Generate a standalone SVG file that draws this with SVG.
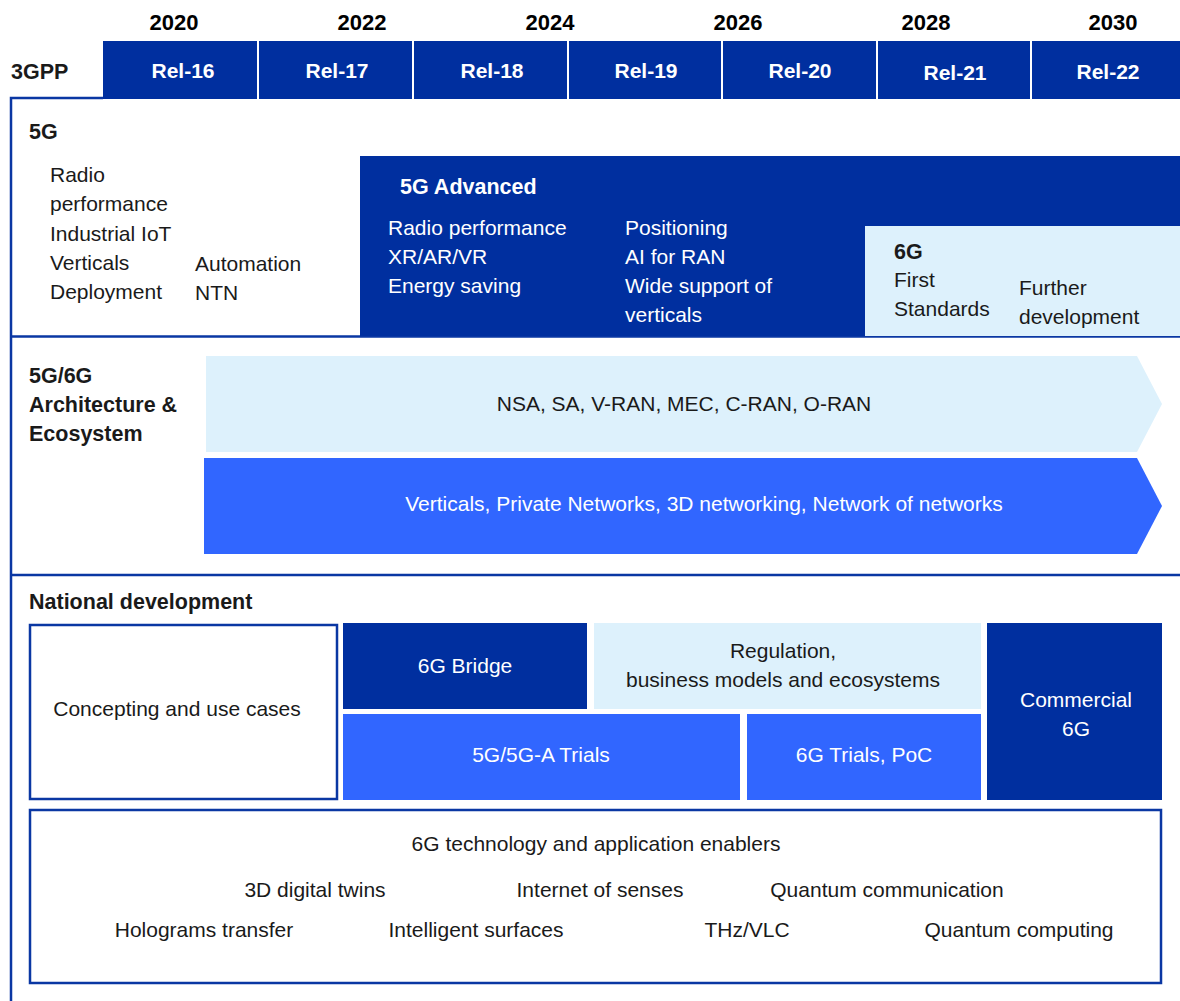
<svg xmlns="http://www.w3.org/2000/svg" width="1180" height="1001" viewBox="0 0 1180 1001">
<style>
text{font-family:"Liberation Sans",Arial,sans-serif;font-size:21px;fill:#1a1a1a}
.b{font-weight:bold;font-size:21.5px}
.yr{font-weight:bold;font-size:22px;fill:#000;text-anchor:middle}
.rel{font-weight:bold;font-size:21px;fill:#fff;text-anchor:middle}
.w{fill:#fff}
.c{text-anchor:middle}
.navy{fill:#002f9f}
.bright{fill:#3166ff}
.light{fill:#ddf1fc}
.line{stroke:#0a37a3;stroke-width:2.5;fill:none}
</style>
<rect width="1180" height="1001" fill="#fff"/>
<g id="years">
<text class="yr" x="174" y="30">2020</text>
<text class="yr" x="362" y="30">2022</text>
<text class="yr" x="550" y="30">2024</text>
<text class="yr" x="738" y="30">2026</text>
<text class="yr" x="926" y="30">2028</text>
<text class="yr" x="1113" y="30">2030</text>
</g>
<g id="gpp">
<text class="b" x="11" y="79">3GPP</text>
<rect class="navy" x="103" y="41" width="154" height="58"/>
<rect class="navy" x="259" y="41" width="153" height="58"/>
<rect class="navy" x="414" y="41" width="153" height="58"/>
<rect class="navy" x="569" y="41" width="152" height="58"/>
<rect class="navy" x="723" y="41" width="153" height="58"/>
<rect class="navy" x="878" y="41" width="152" height="58"/>
<rect class="navy" x="1032" y="41" width="148" height="58"/>
<text class="rel" x="183" y="78">Rel-16</text>
<text class="rel" x="337" y="78">Rel-17</text>
<text class="rel" x="492" y="78">Rel-18</text>
<text class="rel" x="646" y="78">Rel-19</text>
<text class="rel" x="800" y="78">Rel-20</text>
<text class="rel" x="955" y="80">Rel-21</text>
<text class="rel" x="1108" y="79">Rel-22</text>
</g>
<g id="frame">
<path class="line" d="M11 1001 V98 H103"/>
<path class="line" d="M10 336.5 H1180"/>
<path class="line" d="M10 575 H1180"/>
</g>
<g id="sec5g">
<text class="b" x="29" y="139">5G</text>
<text x="50" y="182">Radio</text>
<text x="50" y="211">performance</text>
<text x="50" y="241">Industrial IoT</text>
<text x="50" y="270">Verticals</text>
<text x="50" y="299">Deployment</text>
<text x="195" y="271">Automation</text>
<text x="195" y="300">NTN</text>
</g>
<g id="adv5g">
<rect class="navy" x="360" y="156" width="820" height="180"/>
<text class="b w" x="400" y="194">5G Advanced</text>
<text class="w" x="388" y="235">Radio performance</text>
<text class="w" x="388" y="264">XR/AR/VR</text>
<text class="w" x="388" y="293">Energy saving</text>
<text class="w" x="625" y="235">Positioning</text>
<text class="w" x="625" y="264">AI for RAN</text>
<text class="w" x="625" y="293">Wide support of</text>
<text class="w" x="625" y="322">verticals</text>
</g>
<g id="g6">
<rect class="light" x="865" y="226" width="315" height="110"/>
<text class="b" x="894" y="259">6G</text>
<text x="894" y="287">First</text>
<text x="894" y="316">Standards</text>
<text x="1019" y="295">Further</text>
<text x="1019" y="324">development</text>
</g>
<g id="arch">
<text class="b" x="29" y="383">5G/6G</text>
<text class="b" x="29" y="412">Architecture &amp;</text>
<text class="b" x="29" y="441">Ecosystem</text>
</g>
<g id="arrow1">
<polygon class="light" points="206,356 1137,356 1162,404 1137,452 206,452"/>
<text class="c" x="684" y="411">NSA, SA, V-RAN, MEC, C-RAN, O-RAN</text>
</g>
<g id="arrow2">
<polygon class="bright" points="204,458 1137,458 1162,506 1137,554 204,554"/>
<text class="c w" x="704" y="511">Verticals, Private Networks, 3D networking, Network of networks</text>
</g>
<g id="national">
<text class="b" x="29" y="609">National development</text>
</g>
<g id="concepting">
<rect x="30" y="625" width="307" height="174" fill="#fff" stroke="#0a37a3" stroke-width="2.5"/>
<text class="c" x="177" y="716">Concepting and use cases</text>
</g>
<g id="bridge">
<rect class="navy" x="343" y="623" width="244" height="86"/>
<text class="c w" x="465" y="673">6G Bridge</text>
</g>
<g id="regulation">
<rect class="light" x="594" y="623" width="387" height="86"/>
<text class="c" x="783" y="658">Regulation,</text>
<text class="c" x="783" y="687">business models and ecosystems</text>
</g>
<g id="trials5g">
<rect class="bright" x="343" y="714" width="397" height="86"/>
<text class="c w" x="541" y="762">5G/5G-A Trials</text>
</g>
<g id="trials6g">
<rect class="bright" x="747" y="714" width="234" height="86"/>
<text class="c w" x="864" y="762">6G Trials, PoC</text>
</g>
<g id="commercial">
<rect class="navy" x="987" y="623" width="175" height="177"/>
<text class="c w" x="1076" y="707">Commercial</text>
<text class="c w" x="1076" y="736">6G</text>
</g>
<g id="enablers">
<rect x="30" y="810" width="1131" height="173" fill="#fff" stroke="#0a37a3" stroke-width="2.5"/>
<text class="c" x="596" y="851">6G technology and application enablers</text>
<text class="c" x="315" y="897">3D digital twins</text>
<text class="c" x="600" y="897">Internet of senses</text>
<text class="c" x="887" y="897">Quantum communication</text>
<text class="c" x="204" y="937">Holograms transfer</text>
<text class="c" x="476" y="937">Intelligent surfaces</text>
<text class="c" x="747" y="937">THz/VLC</text>
<text class="c" x="1019" y="937">Quantum computing</text>
</g>
</svg>
